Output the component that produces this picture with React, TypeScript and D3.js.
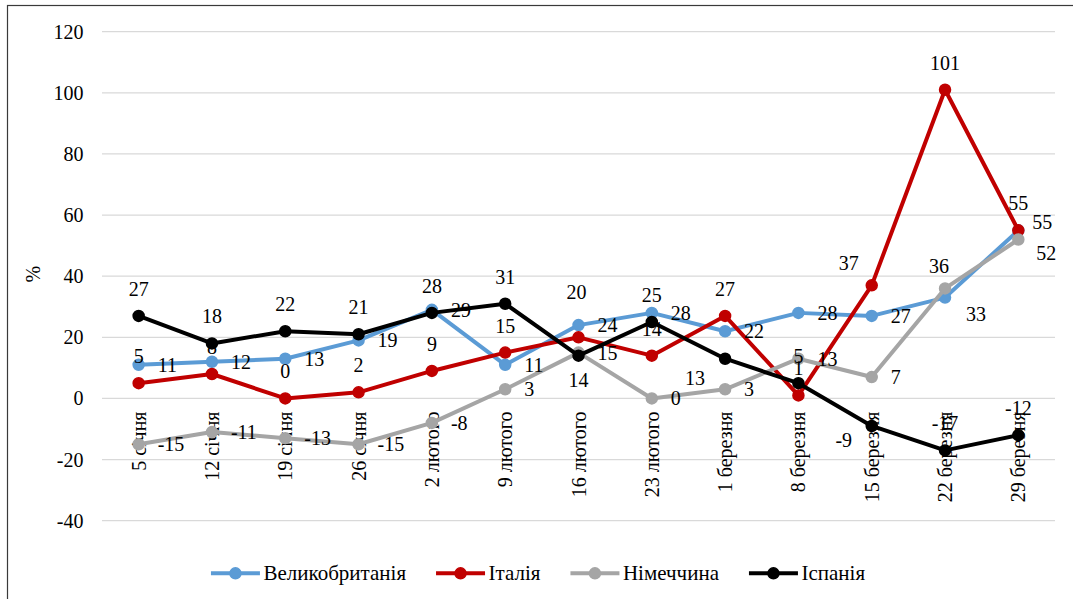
import React from "react";
import * as d3 from "d3";

const categories = [
  "5 січня", "12 січня", "19 січня", "26 січня", "2 лютого", "9 лютого", "16 лютого",
  "23 лютого", "1 березня", "8 березня", "15 березня", "22 березня", "29 березня",
];
const seriesNames = ["Великобританія", "Італія", "Німеччина", "Іспанія"];
const ukValues = [11, 12, 13, 19, 29, 11, 24, 28, 22, 28, 27, 33, 55];
const italyValues = [5, 8, 0, 2, 9, 15, 20, 14, 27, 1, 37, 101, 55];
const germanyValues = [-15, -11, -13, -15, -8, 3, 15, 0, 3, 13, 7, 36, 52];
const spainValues = [27, 18, 22, 21, 28, 31, 14, 25, 13, 5, -9, -17, -12];
const yTicks = [-40, -20, 0, 20, 40, 60, 80, 100, 120];

// label placement codes (styling, not data)
const ukLabelPos = ["r", "r", "r", "r", "r", "r", "r", "r", "r", "r", "r", "rb", "rt"];
const italyLabelPos = ["t", "t", "t", "t", "t", "t", "tt", "t", "t", "t", "lt", "t", "t"];
const germanyLabelPos = ["r", "r", "r", "r", "r", "r", "r", "r", "r", "r", "r", "tl", "rb2"];
const spainLabelPos = ["t", "t", "t", "t", "t", "t", "b", "t", "lb", "t", "lb2", "t", "t"];

const colors = ["#5B9BD5", "#C00000", "#A5A5A5", "#000000"];
const FONT = "Liberation Serif";
const FONT_LIST = "'Liberation Serif', 'Times New Roman', Tinos, serif";
const FS = 20;
const LFS = 21;

const OFF: Record<string, { dx: number; dy: number; anchor: string }> = {
  r: { dx: 19, dy: 0, anchor: "start" },
  t: { dx: 0, dy: -27, anchor: "middle" },
  b: { dx: 0, dy: 24, anchor: "middle" },
  rb: { dx: 21, dy: 16, anchor: "start" },
  rb2: { dx: 18, dy: 13, anchor: "start" },
  rt: { dx: 14, dy: -8, anchor: "start" },
  lt: { dx: -23, dy: -22, anchor: "middle" },
  tl: { dx: -6, dy: -22, anchor: "middle" },
  tt: { dx: -2, dy: -45, anchor: "middle" },
  lb: { dx: -30, dy: 19, anchor: "middle" },
  lb2: { dx: -28, dy: 14, anchor: "middle" },
};

function measure(text: string, size: number): number {
  try {
    const c = document.createElement("canvas").getContext("2d");
    if (c) {
      c.font = `${size}px "Liberation Serif", serif`;
      return c.measureText(text).width;
    }
  } catch (e) {}
  return text.length * size * 0.48;
}

const W = 1073, H = 599;
const left = 102, right = 1055, top = 31.7, bottom = 520.7;
const BASE = 7;

function T(props: any) {
  const { children, size, ...rest } = props;
  return (
    <text {...rest} fontFamily={FONT_LIST} fontSize={size ?? FS} fill="#000" style={{ fontFamily: FONT }}>
      {children}
    </text>
  );
}

export default function App() {
  const x = d3.scaleBand<string>().domain(categories).range([left, right]);
  const cx = (c: string) => (x(c) as number) + x.bandwidth() / 2;
  const y = d3.scaleLinear().domain([-40, 120]).range([bottom, top]);
  const line = d3.line<number>().x((_, i) => cx(categories[i])).y((d) => y(d));

  const allValues = [ukValues, italyValues, germanyValues, spainValues];
  const allPos = [ukLabelPos, italyLabelPos, germanyLabelPos, spainLabelPos];

  const swatch = 49, textGap = 3.5, gap = 30;
  const widths = seriesNames.map((n) => swatch + textGap + measure(n, LFS));
  const total = widths.reduce((a, b) => a + b, 0) + gap * (widths.length - 1);
  const starts: number[] = [];
  let acc = 538 - total / 2;
  widths.forEach((w) => { starts.push(acc); acc += w + gap; });
  const ly = 573.3;

  return (
    <svg width={W} height={H} fontFamily={FONT_LIST}
      style={{ position: "absolute", left: 0, top: 0, fontFamily: FONT_LIST }}>
      <style>{`text { font-family: "Liberation Serif", "Times New Roman", serif; }`}</style>
      <rect x={0} y={0} width={W} height={H} fill="#fff" />
      <rect x={7.5} y={5.5} width={1100} height={700} fill="none" stroke="#3a3a3a" strokeWidth={1.2} />

      {yTicks.map((t) => (
        <line key={`g${t}`} x1={left} x2={right} y1={y(t)} y2={y(t)} stroke="#D9D9D9" strokeWidth={1.3} />
      ))}
      {yTicks.map((t) => (
        <T key={`t${t}`} x={83.5} y={y(t) + BASE} textAnchor="end">{String(t)}</T>
      ))}
      <T transform={`translate(${33 + BASE},${y(40) - 2}) rotate(-90)`} textAnchor="middle">%</T>

      {categories.map((c) => (
        <T key={c} transform={`translate(${cx(c) + BASE},${y(0) + 13}) rotate(-90)`} textAnchor="end">{c}</T>
      ))}

      {allValues.map((vals, s) => (
        <g key={`s${s}`}>
          <path d={line(vals) as string} fill="none" stroke={colors[s]} strokeWidth={4} strokeLinejoin="round" />
          {vals.map((v, i) => (
            <circle key={i} cx={cx(categories[i])} cy={y(v)} r={5.5} fill={colors[s]} stroke={colors[s]} strokeWidth={1.5} />
          ))}
        </g>
      ))}

      {allValues.map((vals, s) => (
        <g key={`l${s}`}>
          {vals.map((v, i) => {
            const o = OFF[allPos[s][i]];
            return (
              <T key={i} x={cx(categories[i]) + o.dx} y={y(v) + o.dy + BASE} textAnchor={o.anchor}>{String(v)}</T>
            );
          })}
        </g>
      ))}

      {seriesNames.map((n, s) => (
        <g key={n} transform={`translate(${starts[s]},0)`}>
          <line x1={0} x2={swatch} y1={ly} y2={ly} stroke={colors[s]} strokeWidth={4} />
          <circle cx={swatch / 2} cy={ly} r={5.5} fill={colors[s]} stroke={colors[s]} strokeWidth={1.5} />
          <T x={swatch + textGap} y={ly + BASE} size={LFS}>{n}</T>
        </g>
      ))}
    </svg>
  );
}
